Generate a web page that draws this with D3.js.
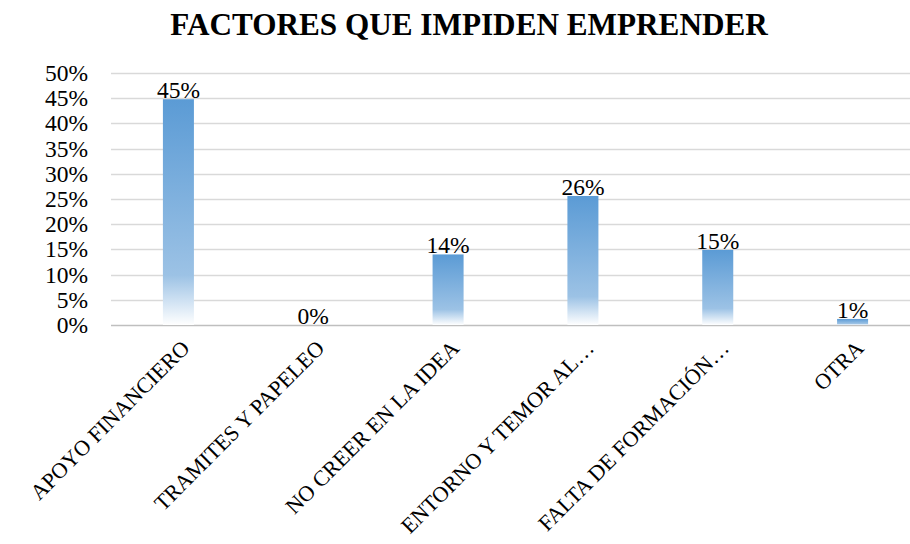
<!DOCTYPE html>
<html>
<head>
<meta charset="utf-8">
<script src="https://cdn.jsdelivr.net/npm/d3@7"></script>
<style>
  body { margin: 0; background: #fff; }
  svg { display: block; }
  svg text { font-family: 'Liberation Serif', 'Times New Roman', serif; }
</style>
</head>
<body>
<svg id="chart" width="910" height="544"></svg>
<script>
// chart data
const categories = ["APOYO FINANCIERO", "TRAMITES Y PAPELEO", "NO CREER EN LA IDEA",
                    "ENTORNO Y TEMOR AL…", "FALTA DE FORMACIÓN…", "OTRA"];
const values = [0.448, 0, 0.14, 0.256, 0.149, 0.012];
const yTicks = [0, 0.05, 0.1, 0.15, 0.2, 0.25, 0.3, 0.35, 0.4, 0.45, 0.5];

const serif = "'Liberation Serif', 'Times New Roman', serif";
const svg = d3.select("#chart");
const margin = { left: 111, right: -10, top: 73, bottom: 219 };
const width = 910, height = 544;

const x = d3.scaleBand()
    .domain(categories)
    .range([margin.left, width - margin.right])
    .paddingInner(0.77)
    .paddingOuter(0.385);
const y = d3.scaleLinear()
    .domain([0, 0.5])
    .range([height - margin.bottom, margin.top]);

// gradient for the bars, per bar
const defs = svg.append("defs");
const grad = defs.append("linearGradient")
    .attr("id", "barFill")
    .attr("x1", 0).attr("y1", 0).attr("x2", 0).attr("y2", 1);
grad.append("stop").attr("offset", "0%").attr("stop-color", "#5b9bd5");
grad.append("stop").attr("offset", "78%").attr("stop-color", "#9cc2e5");
grad.append("stop").attr("offset", "100%").attr("stop-color", "#ffffff");

// title
svg.append("text")
    .attr("x", 469)
    .attr("y", 35)
    .attr("text-anchor", "middle")
    .attr("font-family", serif)
    .style("font-size", "31.2px")
    .style("font-weight", "bold")
    .text("FACTORES QUE IMPIDEN EMPRENDER");

// gridlines
svg.append("g")
    .selectAll("line")
    .data(yTicks)
    .join("line")
    .attr("x1", margin.left)
    .attr("x2", width)
    .attr("y1", d => Math.round(y(d)) + 0.5)
    .attr("y2", d => Math.round(y(d)) + 0.5)
    .attr("stroke", d => d === 0 ? "#bfbfbf" : "#d9d9d9")
    .attr("stroke-width", 1.5);

// y axis labels
const yAxis = d3.axisLeft(y)
    .tickValues(yTicks)
    .tickFormat(d3.format(".0%"))
    .tickSize(0)
    .tickPadding(0);
svg.append("g")
    .attr("transform", `translate(${margin.left - 23},0)`)
    .call(yAxis)
    .attr("font-family", serif)
    .attr("font-size", 23.5)
    .call(g => g.select(".domain").remove())
    .selectAll("text")
    .attr("fill", "#000");

// bars
svg.append("g")
    .selectAll("rect")
    .data(values)
    .join("rect")
    .attr("x", (d, i) => x(categories[i]))
    .attr("y", d => y(d))
    .attr("width", x.bandwidth())
    .attr("height", d => y(0) - y(d))
    .attr("fill", "url(#barFill)");

// value labels
svg.append("g")
    .selectAll("text")
    .data(values)
    .join("text")
    .attr("x", (d, i) => x(categories[i]) + x.bandwidth() / 2)
    .attr("y", d => y(d) - 1)
    .attr("text-anchor", "middle")
    .attr("font-family", serif)
    .style("font-size", "23.5px")
    .text(d => d3.format(".0%")(d));

// category labels
const xAxis = d3.axisBottom(x).tickSize(0).tickPadding(0);
svg.append("g")
    .attr("transform", `translate(0,${y(0)})`)
    .call(xAxis)
    .attr("font-family", serif)
    .attr("font-size", 22)
    .call(g => g.select(".domain").remove())
    .selectAll("text")
    .attr("fill", "#000")
    .attr("text-anchor", "end")
    .attr("dy", "0.35em")
    .attr("transform", "translate(7,19) rotate(-45)");
</script>
</body>
</html>
